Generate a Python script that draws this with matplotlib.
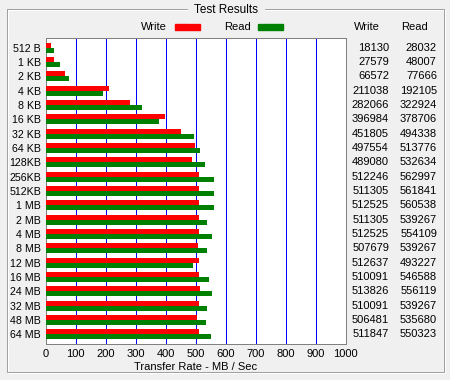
import matplotlib
matplotlib.use("Agg")
import matplotlib.pyplot as plt
from matplotlib.patches import Rectangle
from matplotlib.transforms import blended_transform_factory

plt.rcParams['font.family'] = ['Liberation Sans', 'DejaVu Sans']
plt.rcParams['font.size'] = 8

# transfer sizes and measured rates (KB/s)
sizes = ["512 B", "1 KB", "2 KB", "4 KB", "8 KB", "16 KB", "32 KB", "64 KB",
         "128KB", "256KB", "512KB", "1 MB", "2 MB", "4 MB", "8 MB", "12 MB",
         "16 MB", "24 MB", "32 MB", "48 MB", "64 MB"]
write = [18130, 27579, 66572, 211038, 282066, 396984, 451805, 497554,
         489080, 512246, 511305, 512525, 511305, 512525, 507679, 512637,
         510091, 513826, 510091, 506481, 511847]
read = [28032, 48007, 77666, 192105, 322924, 378706, 494338, 513776,
        532634, 562997, 561841, 560538, 539267, 554109, 539267, 493227,
        546588, 556119, 539267, 535680, 550323]
xticks = [0, 100, 200, 300, 400, 500, 600, 700, 800, 900, 1000]

FS = 8
W, H = 450, 380
fig = plt.figure(figsize=(W / 100, H / 100), dpi=100)
fig.patch.set_facecolor('#f0f0f0')

# group box frame
fig.patches.append(Rectangle((7.5 / W, 1 - 372.5 / H), 437 / W, 362.5 / H,
                             transform=fig.transFigure, fill=False,
                             edgecolor='white', linewidth=0.72))
fig.patches.append(Rectangle((6.5 / W, 1 - 371.5 / H), 437 / W, 362.5 / H,
                             transform=fig.transFigure, fill=False,
                             edgecolor='#a0a0a0', linewidth=0.72))
fig.text(226 / W, 1 - 10 / H, "Test Results", ha='center', va='center',
         fontsize=FS + 0.5, backgroundcolor='#f0f0f0')

ax = fig.add_axes([45.5 / W, 1 - 343.5 / H, 300 / W, 306 / H])
ax.set_facecolor('white')

ypos = list(range(len(sizes)))
wr = [v / 1000 for v in write]
rd = [v / 1000 for v in read]
ax.barh([y - 0.175 for y in ypos], wr, height=0.35, color='#ff0000', zorder=3)
ax.barh([y + 0.175 for y in ypos], rd, height=0.35, color='#008000', zorder=3)

ax.set_xlim(0, 1000)
ax.set_ylim(20.65, -0.7)
ax.set_xticks(xticks)
ax.set_xticklabels([str(t) for t in xticks], fontsize=FS)
ax.set_yticks(ypos)
ax.set_yticklabels(sizes, fontsize=7.7)
ax.tick_params(length=0, pad=4)
ax.tick_params(axis='y', pad=3.3)
ax.xaxis.grid(True, color='#0000ff', linewidth=0.72, zorder=1)
ax.set_axisbelow(True)
for s in ax.spines.values():
    s.set_color('#808080')
    s.set_linewidth(0.72)
ax.set_xlabel("Transfer Rate - MB / Sec", fontsize=FS, labelpad=2)

# legend above
fig.text(167 / W, 1 - 27 / H, "Write", ha='right', va='center', fontsize=FS)
fig.patches.append(Rectangle((175 / W, 1 - 29.5 / H), 25 / W, 5 / H,
                             transform=fig.transFigure, color='#ff0000'))
fig.text(251 / W, 1 - 27 / H, "Read", ha='right', va='center', fontsize=FS)
fig.patches.append(Rectangle((258 / W, 1 - 29.5 / H), 25 / W, 5 / H,
                             transform=fig.transFigure, color='#008000'))

# value columns on the right
fig.text(367 / W, 1 - 27 / H, "Write", ha='center', va='center', fontsize=FS)
fig.text(415 / W, 1 - 27 / H, "Read", ha='center', va='center', fontsize=FS)
tr = blended_transform_factory(fig.transFigure, ax.transData)
for y, w, r in zip(ypos, write, read):
    ax.text(389 / W, y, str(w), ha='right', va='center', fontsize=FS,
            transform=tr, clip_on=False)
    ax.text(437 / W, y, str(r), ha='right', va='center', fontsize=FS,
            transform=tr, clip_on=False)

fig.savefig("out.png", dpi=100, facecolor=fig.get_facecolor())
